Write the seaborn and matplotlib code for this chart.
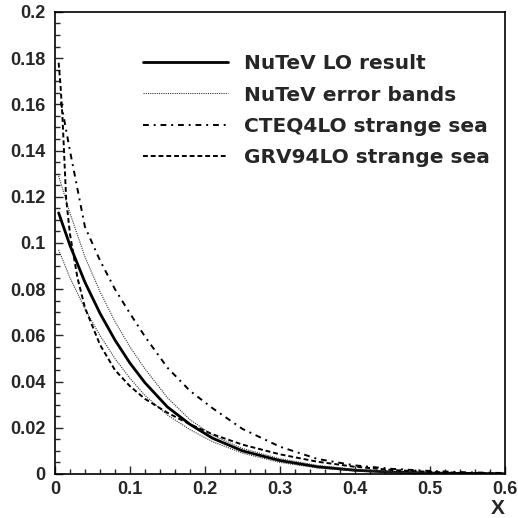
import matplotlib
matplotlib.use("Agg")
import matplotlib.pyplot as plt
from matplotlib.ticker import MultipleLocator, FuncFormatter
import seaborn as sns

# values
x_nutev = [0.005, 0.02, 0.04, 0.06, 0.08, 0.10, 0.12, 0.15, 0.18, 0.21, 0.25, 0.30, 0.35, 0.40, 0.45, 0.50, 0.55, 0.60]
nutev_lo = [0.113, 0.099, 0.083, 0.0696, 0.058, 0.048, 0.0395, 0.029, 0.0215, 0.0155, 0.0100, 0.0058, 0.0031, 0.0016, 0.0008, 0.0004, 0.0002, 0.0001]
nutev_up = [0.129, 0.113, 0.094, 0.079, 0.066, 0.055, 0.0455, 0.033, 0.0235, 0.0168, 0.0110, 0.0066, 0.0037, 0.0020, 0.0010, 0.0005, 0.00025, 0.00012]
nutev_dn = [0.097, 0.085, 0.0715, 0.060, 0.050, 0.0414, 0.034, 0.0255, 0.0192, 0.0140, 0.0090, 0.0050, 0.0026, 0.0013, 0.0006, 0.0003, 0.00015, 0.0001]

x_cteq = [0.008, 0.02, 0.04, 0.06, 0.08, 0.10, 0.12, 0.15, 0.18, 0.21, 0.25, 0.30, 0.35, 0.40, 0.45, 0.50, 0.55, 0.60]
cteq4lo = [0.161, 0.140, 0.107, 0.0925, 0.080, 0.0695, 0.0595, 0.046, 0.036, 0.0285, 0.0195, 0.0118, 0.0065, 0.0037, 0.0022, 0.0013, 0.0007, 0.0004]

x_grv = [0.005, 0.0075, 0.01, 0.015, 0.02, 0.03, 0.04, 0.06, 0.08, 0.10, 0.12, 0.15, 0.18, 0.21, 0.25, 0.30, 0.35, 0.40, 0.45, 0.50, 0.55, 0.60]
grv94lo = [0.178, 0.168, 0.155, 0.119, 0.104, 0.085, 0.072, 0.056, 0.045, 0.038, 0.0325, 0.0265, 0.0215, 0.0172, 0.0127, 0.0085, 0.0053, 0.0031, 0.0017, 0.0009, 0.0004, 0.0002]

labels = ["NuTeV LO result", "NuTeV error bands", "CTEQ4LO strange sea", "GRV94LO strange sea"]

sns.set_style("ticks", {"xtick.direction": "in", "ytick.direction": "in"})

fig = plt.figure(figsize=(5.18, 5.18), dpi=100)
ax = fig.add_axes([0.106, 0.085, 0.869, 0.892])

sns.lineplot(x=x_nutev, y=nutev_lo, ax=ax, color="black", lw=2.0, label=labels[0])
sns.lineplot(x=x_nutev, y=nutev_up, ax=ax, color="#333333", lw=0.8, linestyle=(0, (1, 1)), label=labels[1])
sns.lineplot(x=x_nutev, y=nutev_dn, ax=ax, color="#333333", lw=0.8, linestyle=(0, (1, 1)), label="_nolegend_")
sns.lineplot(x=x_cteq, y=cteq4lo, ax=ax, color="black", lw=1.4, linestyle=(0, (3, 2.5, 1, 2.5)), label=labels[2])
sns.lineplot(x=x_grv, y=grv94lo, ax=ax, color="black", lw=1.4, linestyle=(0, (2.5, 1.5)), label=labels[3])

ax.set_xlim(0, 0.6)
ax.set_ylim(0, 0.2)
ax.xaxis.set_major_locator(MultipleLocator(0.1))
ax.xaxis.set_minor_locator(MultipleLocator(0.02))
ax.yaxis.set_major_locator(MultipleLocator(0.02))
ax.yaxis.set_minor_locator(MultipleLocator(0.005))
fmt = FuncFormatter(lambda v, p: "%g" % round(v, 3))
ax.xaxis.set_major_formatter(fmt)
ax.yaxis.set_major_formatter(fmt)
ax.tick_params(which="major", length=6, width=1, pad=5)
ax.tick_params(axis="y", which="major", pad=7)
ax.tick_params(which="minor", length=3.5, width=1)
for lab in ax.get_xticklabels() + ax.get_yticklabels():
    lab.set_fontfamily("Liberation Sans")
    lab.set_fontweight("bold")
    lab.set_fontsize(13)
for sp in ax.spines.values():
    sp.set_linewidth(1.2)
    sp.set_color("black")

ax.set_xlabel("X", fontsize=15, fontweight="bold", family="Liberation Sans")
ax.xaxis.set_label_coords(1.0, -0.074)
ax.xaxis.label.set_horizontalalignment("right")
ax.xaxis.label.set_verticalalignment("center")
ax.set_ylabel("")

ax.legend(loc="upper left", bbox_to_anchor=(0.196, 0.908), frameon=False,
          prop={"family": "DejaVu Sans", "weight": "bold", "size": 14.5},
          handlelength=4.2, handletextpad=0.8, labelspacing=0.6, borderpad=0, borderaxespad=0)

fig.savefig("out.png", dpi=100)
